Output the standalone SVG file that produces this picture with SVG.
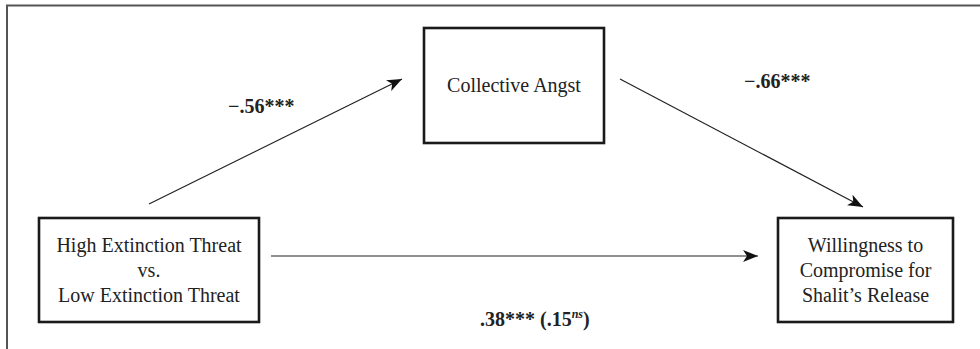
<svg xmlns="http://www.w3.org/2000/svg" width="980" height="349" viewBox="0 0 980 349">
<style>
.box{fill:#fff;stroke:#1a1a1a;stroke-width:2.6}
.t{font-family:"Liberation Serif","Times New Roman",serif;font-size:20px;fill:#222;text-anchor:middle}
.b{font-family:"Liberation Serif","Times New Roman",serif;font-size:20px;font-weight:bold;fill:#222}
.conn{stroke:#222;stroke-width:1.2;fill:none;marker-end:url(#ah)}
</style>
<defs>
<marker id="ah" markerUnits="userSpaceOnUse" markerWidth="16" markerHeight="12" refX="15" refY="6" orient="auto">
<path d="M0,0 L15,6 L0,12 L4,6 z" fill="#111"/>
</marker>
</defs>
<rect width="980" height="349" fill="#fff"/>
<path d="M7,349 V5.5 H980" fill="none" stroke="#555" stroke-width="2"/>
<g id="connectors">
<line class="conn" x1="149" y1="204" x2="402" y2="79"/>
<line class="conn" x1="620" y1="79" x2="863" y2="207"/>
<line class="conn" x1="271" y1="256" x2="758" y2="256"/>
</g>
<g id="labels">
<text class="b" x="228" y="113">−.56***</text>
<text class="b" x="744" y="88">−.66***</text>
<text class="b" x="480" y="326">.38*** (.15<tspan font-size="12" font-style="italic" dy="-8">ns</tspan><tspan dy="8">)</tspan></text>
</g>
<g id="node-angst">
<rect class="box" x="424" y="28" width="180" height="115"/>
<text class="t" x="514" y="92">Collective Angst</text>
</g>
<g id="node-threat">
<rect class="box" x="39" y="218" width="220" height="104"/>
<text class="t" x="149" y="252">High Extinction Threat</text>
<text class="t" x="149" y="277">vs.</text>
<text class="t" x="149" y="302">Low Extinction Threat</text>
</g>
<g id="node-compromise">
<rect class="box" x="778" y="218" width="175" height="104"/>
<text class="t" x="865.5" y="252">Willingness to</text>
<text class="t" x="865.5" y="277">Compromise for</text>
<text class="t" x="865.5" y="302">Shalit’s Release</text>
</g>
</svg>
